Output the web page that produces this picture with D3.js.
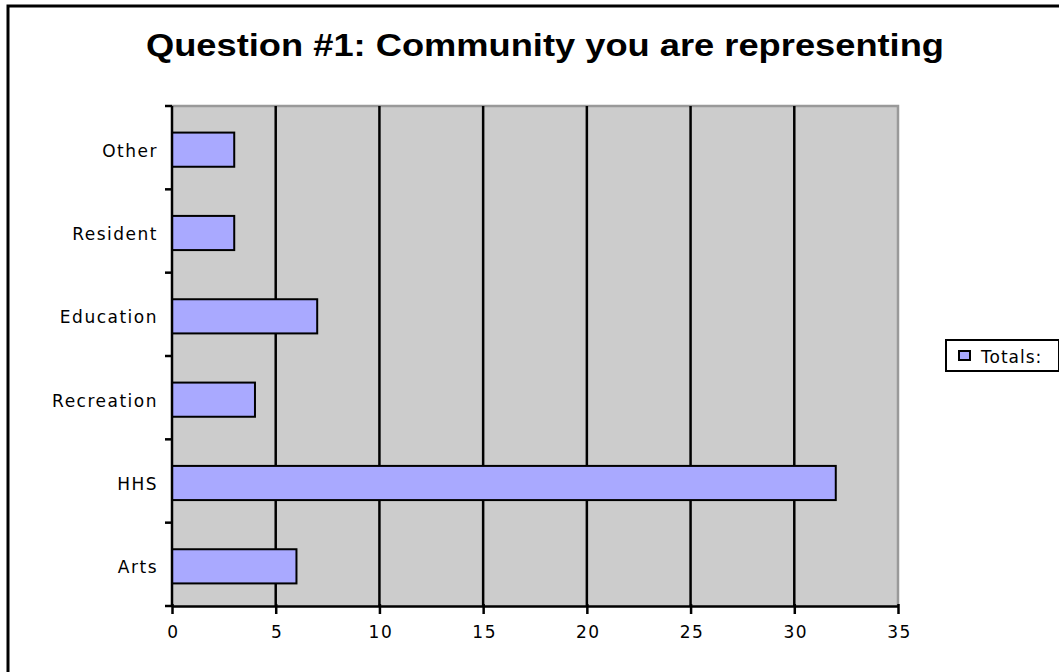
<!DOCTYPE html>
<html><head><meta charset="utf-8">
<script src="https://cdn.jsdelivr.net/npm/d3@7"></script>
<style>body{margin:0;background:#fff}svg{display:block}</style>
</head><body>
<script>
const categories = ["Arts","HHS","Recreation","Education","Resident","Other"];
const totals = [6,32,4,7,3,3];
const xTicks = [0,5,10,15,20,25,30,35];
const seriesName = "Totals:";
const title = "Question #1: Community you are representing";

const W=1059,H=672;
const FONT="DejaVu Sans, Verdana, sans-serif";
const svg=d3.select("body").append("svg").attr("width",W).attr("height",H);
svg.append("rect").attr("x",0).attr("y",0).attr("width",W).attr("height",H).attr("fill","#fff");
// outer frame
svg.append("path").attr("d",`M8,${H+5}V6H${W+5}`).attr("fill","none").attr("stroke","#000").attr("stroke-width",3);

const L=172,R=898,T=106,B=606;
const x=d3.scaleLinear().domain([0,35]).range([L,R]);
const yb=d3.scaleBand().domain(categories.slice().reverse()).range([T,B]);
const y=d3.scaleBand().domain(categories.slice().reverse()).range([T+2,B+2]).paddingInner(0.59).paddingOuter(0.295);

svg.append("rect").attr("x",L).attr("y",T).attr("width",R-L).attr("height",B-T).attr("fill","#cccccc");
svg.append("path").attr("d",`M${L},${T}H${R}V${B}`).attr("fill","none").attr("stroke","#999").attr("stroke-width",2.5);

// grid
svg.append("g").selectAll("line").data(xTicks.filter(d=>d>0&&d<35)).join("line")
  .attr("x1",d=>x(d)).attr("x2",d=>x(d)).attr("y1",T).attr("y2",B)
  .attr("stroke","#000").attr("stroke-width",2.5);

// bars
svg.append("g").selectAll("rect").data(categories).join("rect")
  .attr("x",x(0)).attr("y",d=>y(d)).attr("width",(d,i)=>x(totals[i])-x(0)).attr("height",y.bandwidth())
  .attr("fill","#a9a9ff").attr("stroke","#000").attr("stroke-width",2);

// x axis
const xa=svg.append("g").attr("transform",`translate(0,${B})`)
  .call(d3.axisBottom(x).tickValues(xTicks).tickSize(8).tickSizeOuter(0));
xa.select(".domain").attr("stroke","#000").attr("stroke-width",2.5);
xa.selectAll(".tick line").attr("stroke","#000").attr("stroke-width",2.5).attr("y1",-2);
xa.selectAll(".tick text").attr("font-family",FONT).attr("font-size",17).attr("letter-spacing",1.5)
  .attr("fill","#000").attr("dy","1.25em").attr("dx",1);

// y axis
const ya=svg.append("g").attr("transform",`translate(${L},0)`);
ya.append("line").attr("x1",0).attr("x2",0).attr("y1",T).attr("y2",B).attr("stroke","#000").attr("stroke-width",2.5);
const yt=categories.map(c=>yb(c)).concat([B]);
ya.selectAll("line.t").data(yt).join("line").attr("class","t")
  .attr("x1",-7).attr("x2",0).attr("y1",d=>d).attr("y2",d=>d).attr("stroke","#000").attr("stroke-width",2.5);
ya.selectAll("text").data(categories).join("text")
  .attr("x",-14).attr("y",d=>yb(d)+yb.bandwidth()/2+3).attr("dy","0.35em")
  .attr("text-anchor","end").attr("font-family",FONT).attr("font-size",17).attr("letter-spacing",1.5).attr("fill","#000")
  .text(d=>d);

// title
svg.append("text").attr("x",545).attr("y",56).attr("text-anchor","middle")
  .attr("font-family","Liberation Sans, Arial, sans-serif").attr("font-weight","bold").attr("font-size",31)
  .attr("textLength",798).attr("lengthAdjust","spacingAndGlyphs").text(title);

// legend
const lg=svg.append("g");
lg.append("rect").attr("x",946).attr("y",340).attr("width",113).attr("height",31).attr("fill","#fff").attr("stroke","#000").attr("stroke-width",2);
lg.append("rect").attr("x",959).attr("y",351).attr("width",11).attr("height",9).attr("fill","#a9a9ff").attr("stroke","#000").attr("stroke-width",2);
lg.append("text").attr("x",981).attr("y",357).attr("dy","0.35em").attr("font-family",FONT).attr("font-size",17).attr("letter-spacing",1).text(seriesName);
</script>
</body></html>
